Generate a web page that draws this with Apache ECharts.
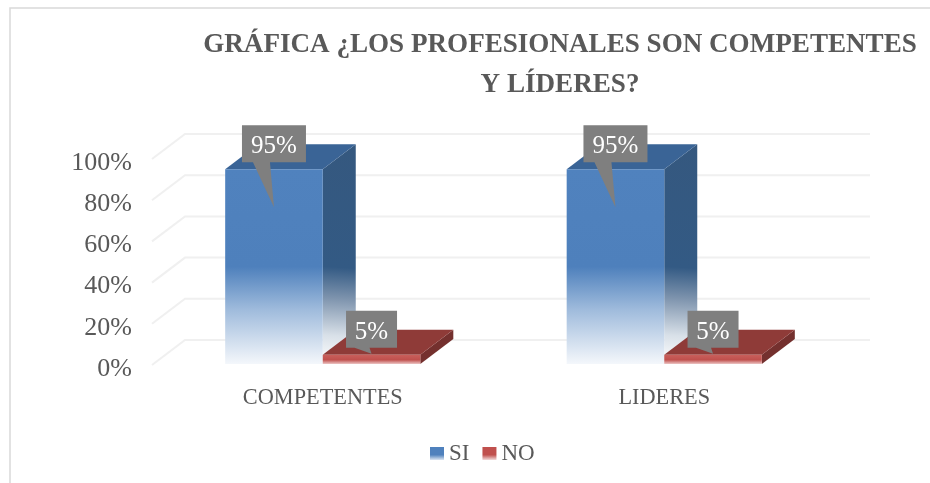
<!DOCTYPE html>
<html><head><meta charset="utf-8">
<style>html,body{margin:0;padding:0;background:#fff}#c{width:930px;height:483px}</style>
<script src="https://cdn.jsdelivr.net/npm/echarts@6/dist/echarts.min.js"></script>
</head><body><div id="c"></div>
<script>
const categories = ['COMPETENTES', 'LIDERES'];
const siValues = [95, 95];
const noValues = [5, 5];
const ticks = [0, 20, 40, 60, 80, 100];
const titleLines = 'GRÁFICA ¿LOS PROFESIONALES SON COMPETENTES\nY LÍDERES?';

const FONT = '"Liberation Serif", serif';
const DX = 33, DY = -25;
const lin = (x, y, x2, y2, stops) => ({type:'linear', x, y, x2, y2, colorStops: stops.map(s => ({offset:s[0], color:s[1]}))});

const siStyle = {
  front: lin(0,0,0,1,[[0,'#5082be'],[0.5,'#4e80bc'],[0.72,'#9fbbdc'],[1,'#f4f7fb']]),
  top: '#3a6496',
  side: lin(0.7,0,0.3,1,[[0,'#35587f'],[0.56,'#335a84'],[0.7,'#7d93ad'],[0.87,'#d8e0e8'],[1,'#ffffff']]),
  box: 64, tip: 38, tail: [-21, -4]
};
const noStyle = {
  front: lin(0,0,0,1,[[0,'#c9605c'],[0.55,'#c0504d'],[1,'#ecc5c4']]),
  top: '#8f3b38',
  side: '#74302e',
  box: 51, tip: -1, tail: [-17, -2]
};

function bar3d(style, index) {
  return function (params, api) {
    const cat = api.value(0), val = api.value(1);
    const band = api.size([1, 0])[0];
    const w = band / 3.5;
    const c = api.coord([cat, val]);
    const b = api.coord([cat, 0]);
    const x = c[0] - w + index * w, t = c[1], y0 = b[1] - 1;
    const cx = x + w / 2;
    const poly = (pts, fill) => ({type:'polygon', shape:{points:pts}, style:{fill}});
    const rectB = t - 7, rectT = rectB - 37, half = style.box / 2;
    return {type:'group', children:[
      poly([[x+w,t],[x+w+DX,t+DY],[x+w+DX,y0+DY],[x+w,y0]], style.side),
      poly([[x,t],[x+DX,t+DY],[x+w+DX,t+DY],[x+w,t]], style.top),
      poly([[x,t],[x+w,t],[x+w,y0],[x,y0]], style.front),
      poly([[cx-half,rectT],[cx+half,rectT],[cx+half,rectB],[cx+style.tail[1],rectB],[cx,t+style.tip],[cx+style.tail[0],rectB],[cx-half,rectB]], '#7f7f7f'),
      {type:'text', style:{text: val + '%', x:cx, y:rectT+21.5, align:'center', verticalAlign:'middle', fill:'#fff', font:'25px '+FONT}}
    ]};
  };
}

const chart = echarts.init(document.getElementById('c'), null, {renderer:'canvas'});
chart.setOption({
  animation:false,
  backgroundColor:'#fff',
  graphic:[{type:'polyline', z:-1, shape:{points:[[10,483],[10,8],[930,8]]}, style:{fill:null, stroke:'#d9d9d9', lineWidth:1.5}}],
  title:{text:titleLines, left:555, top:20, textAlign:'center',
    textStyle:{fontFamily:FONT, fontWeight:'bold', fontSize:27.1, color:'#595959', lineHeight:40, align:'center'}},
  legend:{data:['SI','NO'], left:430, top:442, padding:0, itemWidth:14, itemHeight:13, itemGap:13, icon:'rect',
    textStyle:{fontFamily:FONT, fontSize:23, color:'#595959', padding:[0,0,0,0]}},
  grid:{left:152, top:159, width:683, height:206, containLabel:false},
  xAxis:{type:'category', data:categories, axisLine:{show:false}, axisTick:{show:false},
    axisLabel:{fontFamily:FONT, fontSize:22.3, color:'#595959', margin:22}},
  yAxis:{type:'value', min:0, max:100, interval:20, axisLine:{show:false}, axisTick:{show:false}, splitLine:{show:false},
    axisLabel:{formatter:'{value}%', fontFamily:FONT, fontSize:26, color:'#595959', margin:20, verticalAlign:'top', lineHeight:8}},
  series:[
    {type:'custom', name:'wall', z:1, silent:true, clip:false, data:ticks.map(t=>[0,t]),
      renderItem(params, api){
        const y = api.coord([0, api.value(1)])[1];
        const cs = params.coordSys;
        const x0 = cs.x, x1 = cs.x + cs.width + 2;
        return {type:'polyline', shape:{points:[[x0,y],[x0+DX,y+DY],[x1+DX,y+DY]]}, style:{fill:null, stroke:'#f0f0f0', lineWidth:2}};
      }},
    {type:'custom', name:'SI', z:2, clip:false, data:siValues.map((v,i)=>[i,v]), itemStyle:{color:lin(0,0,0,1,[[0,'#4f81bd'],[0.6,'#4f81bd'],[1,'#dce6f2']])}, renderItem:bar3d(siStyle,0)},
    {type:'custom', name:'NO', z:3, clip:false, data:noValues.map((v,i)=>[i,v]), itemStyle:{color:lin(0,0,0,1,[[0,'#c0504d'],[0.6,'#c0504d'],[1,'#f2dcdb']])}, renderItem:bar3d(noStyle,1)}
  ]
});
</script></body></html>
